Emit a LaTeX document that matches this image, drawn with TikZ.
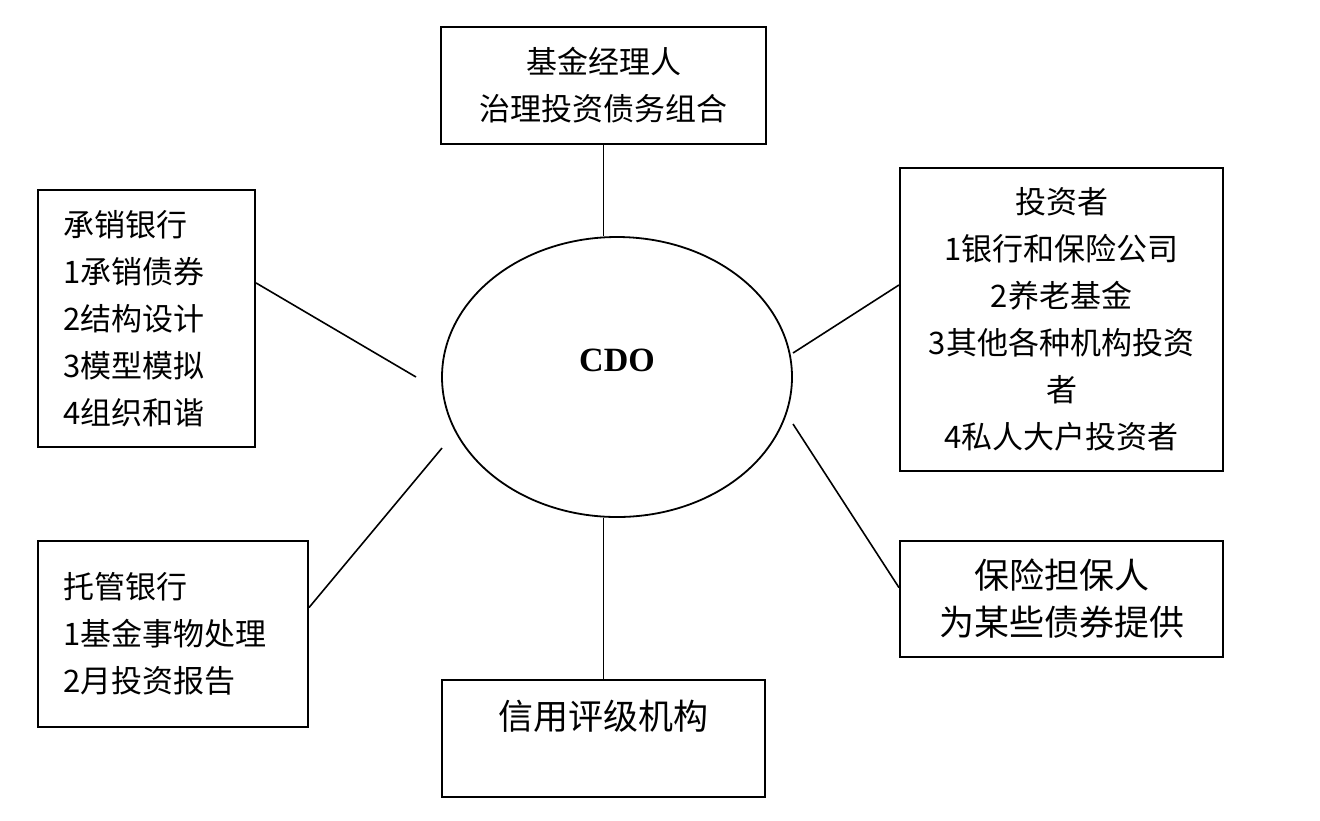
\documentclass[tikz,border=0pt]{standalone}
\usepackage{fontspec}
\setmainfont{Liberation Serif}
\newfontfamily\cjk{Noto Sans CJK SC}
\usetikzlibrary{shapes.geometric}

\begin{document}
\begin{tikzpicture}[x=0.5pt, y=-0.5pt,
        box/.style={draw, line width=1pt, inner xsep=12.5pt, inner ysep=0pt,
          font=\cjk\fontsize{15.5}{23.5}\selectfont, align=center},
        bigbox/.style={box, font=\cjk\fontsize{17.5}{23.5}\selectfont},
        leftbox/.style={box, align=left},
        hub/.style={draw, ellipse, line width=0.9pt, minimum width=175pt,
          minimum height=140pt, inner sep=0pt, font=\bfseries\fontsize{17}{20}\selectfont},
        link/.style={line width=0.8pt}]
  \useasboundingbox (0,0) rectangle (1320,820);
  \node[hub, text depth=17pt] (cdo) at (617,377) {CDO};
  \node[box, minimum width=162.5pt, minimum height=58.5pt] (manager) at (603.5,85.5)
    {基金经理人\\治理投资债务组合};
  \node[leftbox, text width=83.5pt, minimum height=128.5pt] (under) at (146.5,318.5)
    {承销银行\\1承销债券\\2结构设计\\3模型模拟\\4组织和谐};
  \node[leftbox, text width=110pt, minimum height=93pt] (custody) at (173,634)
    {托管银行\\1基金事物处理\\2月投资报告};
  \node[bigbox, minimum width=161.5pt, minimum height=58.5pt, text depth=24pt] (rating) at (603.5,738.5)
    {信用评级机构};
  \node[box, minimum width=161.5pt, minimum height=151.5pt] (investor) at (1061.5,319.5)
    {投资者\\1银行和保险公司\\2养老基金\\3其他各种机构投资\\者\\4私人大户投资者};
  \node[bigbox, minimum width=161.5pt, minimum height=58pt] (insurer) at (1061.5,599)
    {保险担保人\\为某些债券提供};
  % free ends next to the ellipse
  \coordinate (underend) at (416,377);
  \coordinate (custodyend) at (442,448);
  \coordinate (investorend) at (793,353);
  \coordinate (insurerend) at (793,424);
  \draw[link] (manager.south) -- (cdo.north -| manager.south);
  \draw[link] (rating.north) -- (cdo.south -| rating.north);
  \draw[link] (under.18) -- (underend);
  \draw[link] (custody.11) -- (custodyend);
  \draw[link] (investorend) -- (investor.168);
  \draw[link] (insurerend) -- (insurer.176);
\end{tikzpicture}
\end{document}
